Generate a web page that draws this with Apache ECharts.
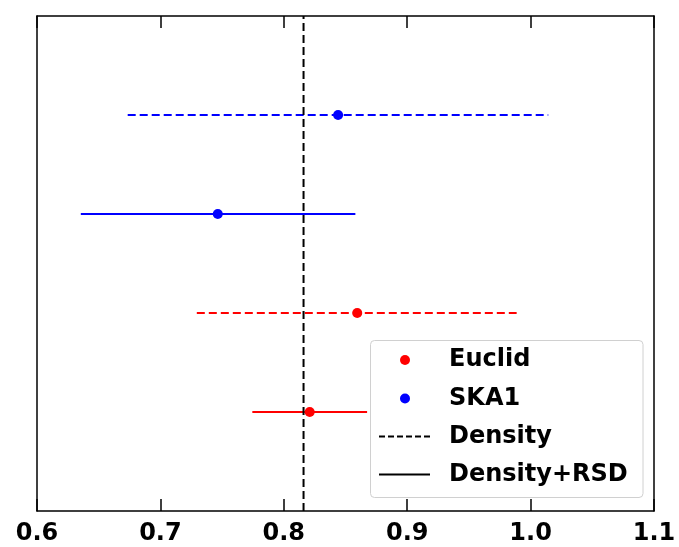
<!DOCTYPE html>
<html>
<head>
<meta charset="utf-8">
<script src="https://cdn.jsdelivr.net/npm/echarts@6/dist/echarts.min.js"></script>
<style>html,body{margin:0;padding:0;background:#fff;}#c{width:679px;height:547px;}</style>
</head>
<body>
<div id="c"></div>
<script>
// ---- data ----
const rowY = [4, 3, 2, 1];
const surveys = ['SKA1', 'SKA1', 'Euclid', 'Euclid'];
const methods = ['Density', 'Density+RSD', 'Density', 'Density+RSD'];
const centers = [0.844, 0.7465, 0.8595, 0.821];
const lows = [0.6735, 0.6355, 0.7295, 0.7745];
const highs = [1.0143, 0.858, 0.9887, 0.8675];
const fiducial = 0.816;
const yRange = [0, 5];
const xTicks = [0.6, 0.7, 0.8, 0.9, 1.0, 1.1];
const legendItems = ['Euclid', 'SKA1', 'Density', 'Density+RSD'];

const surveyColor = { 'Euclid': '#ff0000', 'SKA1': '#0000ff' };
const DASH = [8, 4];
const methodLine = { 'Density': DASH, 'Density+RSD': 'solid' };

const chart = echarts.init(document.getElementById('c'), null, { renderer: 'canvas' });
const FONT = 'DejaVu Sans';

const series = [];
// fiducial vertical line
series.push({
  type: 'line',
  data: [[fiducial, yRange[0]], [fiducial, yRange[1]]],
  symbol: 'none', silent: true, z: 4,
  lineStyle: { color: '#000', width: 2, type: DASH }
});
rowY.forEach((y, i) => {
  series.push({
    type: 'line',
    data: [[lows[i], y], [highs[i], y]],
    symbol: 'none', silent: true, z: 2,
    lineStyle: { color: surveyColor[surveys[i]], width: 2, type: methodLine[methods[i]] }
  });
  series.push({
    type: 'scatter',
    data: [[centers[i], y]],
    symbol: 'circle', symbolSize: 10, z: 5,
    itemStyle: { color: surveyColor[surveys[i]], opacity: 1 }
  });
});

// legend drawn as graphic
const L = { x: 370.5, y: 340.5, w: 272.5, h: 157 };
const rowsY = [360, 398.5, 436.5, 474.5];
const legendChildren = [{
  type: 'rect',
  shape: { x: L.x, y: L.y, width: L.w, height: L.h, r: 4 },
  style: { fill: '#ffffff', stroke: '#d0d0d0', lineWidth: 1 },
  z: 10
}];
legendItems.forEach((name, k) => {
  const cy = rowsY[k];
  if (surveyColor[name]) {
    legendChildren.push({ type: 'circle', shape: { cx: 405, cy: cy, r: 5 }, style: { fill: surveyColor[name] }, z: 11 });
  } else {
    legendChildren.push({
      type: 'line', shape: { x1: 379, y1: cy, x2: 430, y2: cy },
      style: { stroke: '#000', lineWidth: 2, lineDash: name === 'Density' ? [6, 3] : null }, z: 11
    });
  }
  legendChildren.push({
    type: 'text', x: 449, y: cy,
    style: { text: name, font: 'bold 24px "' + FONT + '"', fill: '#000', textVerticalAlign: 'middle', verticalAlign: 'middle' },
    z: 11
  });
});

const xAxisBase = {
  type: 'value', min: 0.6, max: 1.1, interval: 0.1,
  splitLine: { show: false },
  axisLine: { show: true, onZero: false, lineStyle: { color: '#000', width: 1.5 } },
  axisTick: { show: true, inside: true, length: 12, lineStyle: { color: '#000', width: 1.5 } }
};

chart.setOption({
  animation: false,
  backgroundColor: '#ffffff',
  grid: { left: 37, right: 25, top: 16, bottom: 36, containLabel: false },
  xAxis: [
    Object.assign({}, xAxisBase, {
      position: 'bottom',
      axisLabel: {
        show: true, margin: 11, color: '#000', fontFamily: FONT, fontWeight: 'bold', fontSize: 24,
        formatter: v => { const t = xTicks.find(a => Math.abs(a - v) < 1e-9); return t !== undefined ? t.toFixed(1) : ''; }
      }
    }),
    Object.assign({}, xAxisBase, { position: 'top', axisLabel: { show: false } })
  ],
  yAxis: [
    { type: 'value', min: yRange[0], max: yRange[1], position: 'left', splitLine: { show: false },
      axisLine: { show: true, onZero: false, lineStyle: { color: '#000', width: 1.5 } },
      axisTick: { show: false }, axisLabel: { show: false } },
    { type: 'value', min: yRange[0], max: yRange[1], position: 'right', splitLine: { show: false },
      axisLine: { show: true, onZero: false, lineStyle: { color: '#000', width: 1.5 } },
      axisTick: { show: false }, axisLabel: { show: false } }
  ],
  series: series,
  graphic: [{ type: 'group', children: legendChildren }]
});
</script>
</body>
</html>
